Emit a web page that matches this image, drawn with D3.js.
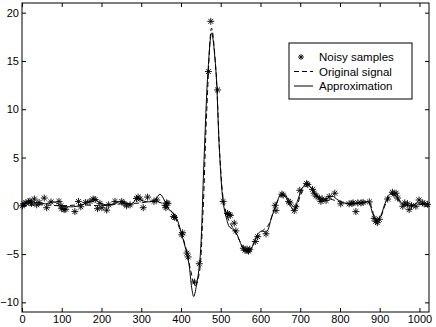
<!DOCTYPE html>
<html>
<head>
<meta charset="utf-8">
<script src="https://cdn.jsdelivr.net/npm/d3@7"></script>
<style>
  body { margin: 0; background: #fff; }
  text { font-family: "Liberation Sans", Arial, sans-serif; }
</style>
</head>
<body>
<svg id="chart" width="436" height="327"></svg>
<script>
// x ticks and y ticks
const xTicks = [0, 100, 200, 300, 400, 500, 600, 700, 800, 900, 1000];
const yTicks = [-10, -5, 0, 5, 10, 15, 20];
const legendLabels = ["Noisy samples", "Original signal", "Approximation"];

// noisy samples [x, y]
const noisy = [
  [1,0.0],[5,0.2],[10,0.3],[16,0.4],[20,0.5],[24,0.25],[31,0.7],[37,0.1],[43,0.35],
  [56,0.8],[62,-0.2],[73,0.4],[93,0.45],[98,0.0],[100,-0.3],[106,-0.4],[110,-0.35],
  [133,-0.6],[142,0.45],[148,-0.1],[160,0.35],[171,0.45],[179,0.7],[184,0.65],[190,-0.3],
  [196,0.25],[201,-0.2],[213,-0.45],[218,0.1],[234,0.45],[251,0.45],[257,0.25],[263,0.0],
  [272,0.1],[288,0.75],[292,0.9],[297,0.7],[305,-0.2],[316,0.9],[332,0.45],[339,0.6],
  [360,0.05],[362,-0.2],[364,0.3],[367,0.25],[381,-1.1],[384,-1.2],[402,-3.0],[404,-2.8],
  [415,-4.9],[418,-5.3],[434,-7.9],[446,-6.0],[469,13.9],[475,19.1],[492,12.0],
  [506,0.45],[517,-0.8],[521,-0.9],[524,-1.0],[534,-1.8],[538,-2.6],[557,-4.4],[561,-4.6],
  [566,-4.5],[570,-4.7],[573,-4.5],[587,-3.7],[593,-3.2],[614,-2.9],[637,0.05],[639,-0.5],
  [654,1.2],[657,1.1],[671,0.45],[674,0.3],[685,-0.5],[689,-0.1],[699,1.6],[716,2.3],
  [719,2.2],[731,1.7],[735,1.3],[740,1.0],[748,0.8],[752,0.45],[755,0.7],[765,0.55],
  [773,0.95],[787,1.3],[802,0.2],[823,0.2],[830,0.25],[833,0.3],[840,-0.6],[845,0.3],
  [853,0.3],[858,0.35],[874,0.4],[886,-1.3],[890,-1.6],[894,-1.75],[899,-1.4],[920,0.7],
  [932,1.4],[936,1.2],[941,1.3],[945,0.8],[958,-0.05],[963,0.3],[970,0.2],[974,-0.4],
  [980,0.0],[991,-0.05],[999,0.6],[1008,0.3],[1012,0.2],[1020,0.15]
];

// original signal (dashed)
const original = [
  [0,0],[50,0.1],[100,0],[150,0.1],[200,0],[250,0.2],[300,0.3],[330,0.5],[350,0.3],
  [365,-0.1],[380,-0.8],[395,-2.2],[410,-4.0],[425,-6.8],[435,-8.3],[445,-7.2],[455,-1],
  [465,10],[477,18.4],[488,14],[498,5],[508,0.3],[520,-1.5],[535,-2.6],[550,-3.8],
  [562,-4.6],[575,-4.4],[590,-3.4],[605,-2.6],[620,-2.0],[635,-0.3],[650,1.0],[660,1.2],
  [675,0.3],[688,-0.3],[700,1.0],[715,2.1],[730,1.8],[750,0.8],[775,0.7],[800,0.4],
  [830,0.2],[860,0.3],[875,0.2],[890,-1.4],[900,-1.3],[915,0.2],[930,1.2],[945,0.8],
  [960,0.1],[990,0.1],[1024,0.2]
];

// approximation (solid)
const approx = [
  [0,0.1],[20,0.4],[40,0.3],[60,0.2],[80,0.4],[100,0.0],[130,-0.1],[150,0.1],[170,0.4],
  [185,0.6],[200,0.2],[220,0.1],[245,0.4],[260,0.3],[275,0.1],[290,0.8],[305,0.5],
  [320,0.4],[335,0.6],[347,1.2],[358,0.6],[370,-0.4],[382,-0.8],[392,-1.6],[402,-3.0],
  [412,-4.5],[420,-6.0],[427,-8.5],[432,-9.4],[440,-8.0],[448,-5.4],[458,4.8],[468,14],
  [477,17.9],[487,14.5],[497,5.5],[506,0.4],[515,-1.4],[522,-2.2],[530,-2.4],[540,-2.9],
  [550,-3.9],[560,-4.7],[570,-4.9],[580,-4.2],[592,-3.0],[603,-2.6],[615,-2.7],[628,-1.2],
  [640,0.2],[653,1.3],[662,1.0],[672,0.3],[684,-0.5],[694,0.6],[705,1.8],[716,2.3],
  [728,1.8],[740,1.1],[752,0.6],[765,0.7],[780,1.0],[795,0.6],[810,0.3],[830,0.2],
  [850,0.3],[872,0.4],[882,-0.8],[893,-1.6],[903,-1.0],[915,0.4],[928,1.3],[940,1.1],
  [952,0.3],[965,0.1],[980,0.0],[995,0.3],[1010,0.2],[1024,0.2]
];

const svg = d3.select("#chart");
const m = { left: 22, right: 429, top: 3, bottom: 312 };

const x = d3.scaleLinear().domain([0, 1024]).range([m.left, m.right]);
const y = d3.scaleLinear().domain([-11, 21]).range([m.bottom, m.top]);

// frame
svg.append("rect")
  .attr("x", m.left).attr("y", m.top)
  .attr("width", m.right - m.left).attr("height", m.bottom - m.top)
  .attr("fill", "none").attr("stroke", "#000").attr("stroke-width", 1);

const fmt = d => d < 0 ? "\u2212" + Math.abs(d) : String(d);

// axes, ticks pointing inwards like matlab
svg.append("g")
  .attr("transform", `translate(0,${m.bottom})`)
  .call(d3.axisBottom(x).tickValues(xTicks).tickSize(-4).tickPadding(3).tickFormat(fmt))
  .call(g => g.select(".domain").remove())
  .attr("font-size", 11);
svg.append("g")
  .attr("transform", `translate(0,${m.top})`)
  .call(d3.axisTop(x).tickValues(xTicks).tickSize(-4).tickFormat(""))
  .call(g => g.select(".domain").remove());
svg.append("g")
  .attr("transform", `translate(${m.left},0)`)
  .call(d3.axisLeft(y).tickValues(yTicks).tickSize(-4).tickPadding(3).tickFormat(fmt))
  .call(g => g.select(".domain").remove())
  .attr("font-size", 11);
svg.append("g")
  .attr("transform", `translate(${m.right},0)`)
  .call(d3.axisRight(y).tickValues(yTicks).tickSize(-4).tickFormat(""))
  .call(g => g.select(".domain").remove());
svg.selectAll(".tick line").attr("stroke", "#000");
svg.selectAll(".tick text").attr("fill", "#000");

const line = d3.line()
  .x(d => x(d[0])).y(d => y(d[1]))
  .curve(d3.curveCatmullRom.alpha(0.5));

svg.append("path")
  .datum(original)
  .attr("d", line)
  .attr("fill", "none").attr("stroke", "#000")
  .attr("stroke-width", 1).attr("stroke-dasharray", "5,3");

svg.append("path")
  .datum(approx)
  .attr("d", line)
  .attr("fill", "none").attr("stroke", "#000")
  .attr("stroke-width", 1);

// asterisk marker
function star(g, r) {
  g.append("path")
    .attr("d", `M${-r},0H${r}M0,${-r}V${r}M${-r*0.7},${-r*0.7}L${r*0.7},${r*0.7}M${-r*0.7},${r*0.7}L${r*0.7},${-r*0.7}`)
    .attr("stroke", "#000").attr("stroke-width", 0.9).attr("fill", "none");
}

svg.append("g").selectAll("g")
  .data(noisy)
  .join("g")
  .attr("transform", d => `translate(${x(d[0])},${y(d[1])})`)
  .each(function() { star(d3.select(this), 3.5); });

// legend
const lg = svg.append("g").attr("transform", "translate(289,43)");
lg.append("rect")
  .attr("width", 123).attr("height", 56)
  .attr("fill", "#fff").attr("stroke", "#000").attr("stroke-width", 1);
const rows = [14, 28.5, 43];
star(lg.append("g").attr("transform", `translate(12,${rows[0]})`), 3);
lg.append("line").attr("x1", 5).attr("x2", 24).attr("y1", rows[1]).attr("y2", rows[1])
  .attr("stroke", "#000").attr("stroke-width", 1).attr("stroke-dasharray", "5,3");
lg.append("line").attr("x1", 5).attr("x2", 24).attr("y1", rows[2]).attr("y2", rows[2])
  .attr("stroke", "#000").attr("stroke-width", 1);
lg.selectAll("text.lbl")
  .data(legendLabels)
  .join("text")
  .attr("class", "lbl")
  .attr("x", 30).attr("y", (d, i) => rows[i])
  .attr("dy", "0.35em")
  .attr("font-size", 11.5)
  .text(d => d);
</script>
</body>
</html>
